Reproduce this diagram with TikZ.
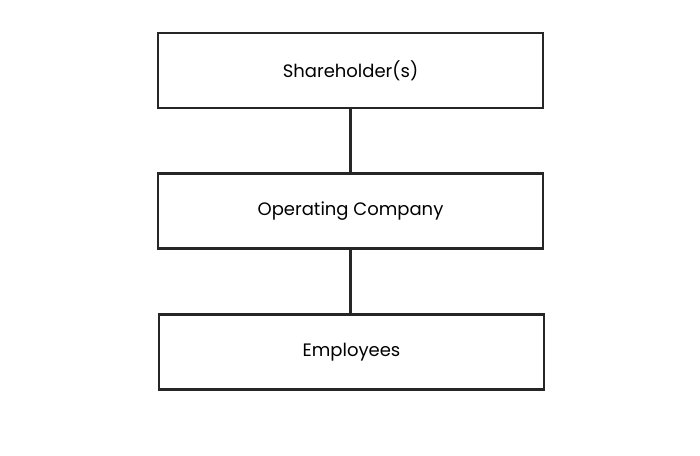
\documentclass[tikz,border=0pt]{standalone}
\usepackage{fontspec}
\setmainfont{Poppins}
\begin{document}
\begin{tikzpicture}[x=1pt,y=-1pt,
  box/.style={draw=black!85,line width=2.2pt,minimum width=385pt,minimum height=75pt,inner sep=0pt,font=\fontsize{18}{21}\selectfont},
  link/.style={draw=black!85,line width=2.2pt}]
\path[use as bounding box] (0,0) rectangle (700,455);
\node[box] (sh) at (350.5,70.5) {Shareholder(s)};
\node[box] (op) at (350.5,211) {Operating Company};
\node[box] (em) at (351.5,352) {Employees};
\draw[link] (sh.south) -- (op.north);
\draw[link] (op.south) -- (op.south |- em.north);
\end{tikzpicture}
\end{document}
